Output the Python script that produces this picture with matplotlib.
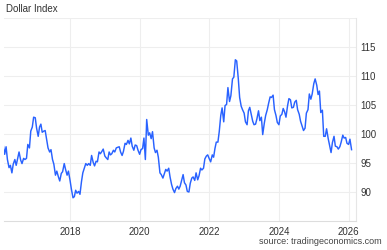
import pandas as pd
import matplotlib
matplotlib.use('Agg')
import matplotlib.pyplot as plt

plt.rcParams['font.family'] = ['Liberation Sans', 'DejaVu Sans']

# semi-monthly readings, Feb 2016 .. Feb 2026
dxy_2016 = [98.0, 96.5, 97.8, 95.6, 94.2, 94.6, 93.3, 94.8, 95.6, 94.6, 95.8,
            96.9, 95.5, 94.9, 95.8, 95.6, 95.8, 98.2, 97.6, 100.5, 101.2, 102.9]
dxy_2017 = [102.8, 101.0, 99.6, 101.2, 101.7, 100.3, 100.5, 100.6, 99.0, 97.6, 96.9, 97.3,
            95.6, 94.8, 92.9, 93.6, 92.6, 91.9, 93.2, 93.5, 94.9, 93.9, 92.9, 93.6]
dxy_2018 = [92.0, 90.5, 89.0, 89.2, 90.3, 89.8, 90.1, 89.6, 91.8, 93.3, 94.2, 94.9,
            94.6, 94.9, 94.6, 96.3, 95.1, 94.5, 95.3, 95.2, 96.9, 96.6, 97.0, 97.4]
dxy_2019 = [96.2, 95.9, 95.6, 96.9, 96.4, 96.6, 97.2, 96.9, 97.6, 97.7, 97.8, 96.9,
            96.3, 97.0, 98.4, 98.2, 98.9, 98.3, 99.3, 97.9, 97.2, 98.1, 98.0, 97.2]
dxy_2020 = [96.5, 97.3, 97.5, 99.3, 95.6, 102.5, 99.8, 100.2, 99.2, 100.4, 97.6, 96.8,
            97.2, 96.0, 93.3, 93.0, 92.4, 93.1, 93.9, 93.6, 94.1, 92.6, 91.3, 90.5]
dxy_2021 = [89.9, 90.6, 91.0, 90.5, 91.0, 91.9, 93.0, 91.6, 91.2, 90.1, 90.0, 91.5,
            92.4, 92.6, 92.0, 93.3, 92.1, 92.8, 94.1, 93.8, 94.1, 95.7, 96.2, 96.4]
dxy_2022 = [95.7, 95.2, 96.4, 96.0, 97.5, 98.6, 98.6, 100.4, 103.2, 104.5, 102.1, 104.9,
            105.1, 108.0, 105.6, 106.6, 109.5, 109.8, 112.8, 112.6, 109.5, 106.3, 104.8, 104.2]
dxy_2023 = [103.6, 102.1, 101.6, 104.0, 104.6, 103.5, 102.2, 101.6, 101.7, 102.6, 104.0, 102.3,
            102.9, 99.9, 101.9, 103.2, 104.2, 105.3, 106.4, 106.3, 106.7, 104.2, 103.2, 102.0]
dxy_2024 = [101.6, 103.1, 103.4, 104.4, 103.8, 102.9, 104.9, 106.1, 105.9, 104.5, 104.6, 105.5,
            105.8, 104.2, 103.4, 102.2, 101.3, 100.6, 101.0, 103.6, 104.2, 106.9, 106.0, 106.9]
dxy_2025 = [108.7, 109.5, 108.4, 106.8, 107.4, 103.7, 104.1, 99.6, 99.6, 100.9, 99.2, 98.1,
            96.8, 98.5, 99.6, 97.9, 97.8, 97.4, 97.8, 98.6, 99.8, 99.3, 99.4, 98.4]
dxy_2026 = [98.2, 99.1, 97.3]

values = (dxy_2016 + dxy_2017 + dxy_2018 + dxy_2019 + dxy_2020 + dxy_2021 +
          dxy_2022 + dxy_2023 + dxy_2024 + dxy_2025 + dxy_2026)
dates = pd.date_range('2016-02-01', periods=len(values), freq='SMS')

year_ticks = [2018, 2020, 2022, 2024, 2026]
value_ticks = [90, 95, 100, 105, 110, 115]

fig = plt.figure(figsize=(3.87, 2.5), dpi=100)
ax = fig.add_axes([0.0103, 0.116, 0.9097, 0.812])
ax.plot(dates, values, color='#2962ff', linewidth=1.05)

ax.set_xlim(pd.Timestamp('2016-02-08'), pd.Timestamp('2026-03-20'))
ax.set_ylim(85, 120)
ax.set_xticks([pd.Timestamp('%d-01-01' % y) for y in year_ticks])
ax.set_xticklabels([str(y) for y in year_ticks])
ax.set_yticks(value_ticks)
ax.yaxis.tick_right()
ax.tick_params(axis='both', length=0, labelsize=7, colors='#333333')
ax.tick_params(axis='y', pad=3)
ax.tick_params(axis='x', pad=4)

ax.grid(True, color='#eeeeee', linewidth=0.8)
ax.axhline(120, color='#eeeeee', linewidth=0.8)
for s in ['left', 'top']:
    ax.spines[s].set_visible(False)
ax.spines['right'].set_color('#e6e6e6')
ax.spines['bottom'].set_color('#dddddd')

fig.text(0.016, 0.966, 'Dollar Index', fontsize=7, color='#333333', va='center')
fig.text(0.985, 0.036, 'source: tradingeconomics.com', fontsize=6.5, color='#444444',
         ha='right', va='center')

fig.savefig('out.png', dpi=100)
